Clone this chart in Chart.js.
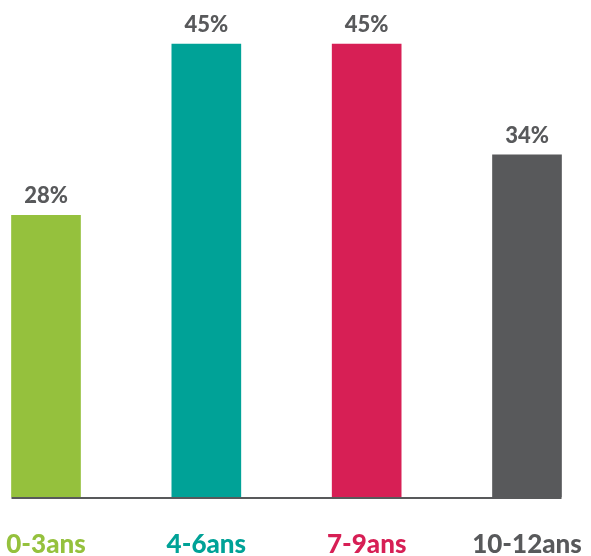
<!DOCTYPE html>
<html>
<head>
<meta charset="utf-8">
<script src="https://cdn.jsdelivr.net/npm/chart.js@4/dist/chart.umd.min.js"></script>
<style>
  html, body { margin: 0; padding: 0; background: #fff; }
  #wrap { width: 591px; height: 556px; }
</style>
</head>
<body>
<div id="wrap"><canvas id="ageChart" width="591" height="556"></canvas></div>
<script>
// tranches d'âge et pourcentages
const ageGroups = ['0-3ans', '4-6ans', '7-9ans', '10-12ans'];
const percents = [28, 45, 45, 34];
const barColors = ['#95c13d', '#00a297', '#d71f55', '#58595b'];

const textGrey = '#58595b';
const fontFamily = 'Lato, "Open Sans", sans-serif';

// ligne de base sous les barres, d'un bord de barre à l'autre
const baseLine = {
    id: 'baseLine',
    afterDatasetsDraw(chart) {
        const bars = chart.getDatasetMeta(0).data;
        if (!bars.length) return;
        const first = bars[0], last = bars[bars.length - 1];
        const y = chart.scales.y.getPixelForValue(0) + 1;
        const ctx = chart.ctx;
        ctx.save();
        ctx.strokeStyle = textGrey;
        ctx.lineWidth = 2;
        ctx.beginPath();
        ctx.moveTo(first.x - first.width / 2, y);
        ctx.lineTo(last.x + last.width / 2, y);
        ctx.stroke();
        ctx.restore();
    }
};

// pourcentage au-dessus de chaque barre
const valueLabels = {
    id: 'valueLabels',
    afterDatasetsDraw(chart) {
        const ctx = chart.ctx;
        const values = chart.data.datasets[0].data;
        ctx.save();
        ctx.font = '900 22px ' + fontFamily;
        ctx.fillStyle = textGrey;
        ctx.textAlign = 'center';
        ctx.textBaseline = 'alphabetic';
        chart.getDatasetMeta(0).data.forEach((bar, i) => {
            ctx.fillText(values[i] + '%', bar.x, bar.y - 12);
        });
        ctx.restore();
    }
};

new Chart(document.getElementById('ageChart'), {
    type: 'bar',
    data: {
        labels: ageGroups,
        datasets: [{
            data: percents,
            backgroundColor: barColors,
            barThickness: 69,
            clip: false
        }]
    },
    options: {
        responsive: false,
        devicePixelRatio: 1,
        animation: false,
        layout: { padding: { left: 46, right: 64, top: 14, bottom: 0 } },
        plugins: {
            legend: { display: false },
            tooltip: { enabled: false }
        },
        scales: {
            x: {
                offset: false,
                grid: { display: false, drawTicks: false },
                border: { display: false },
                afterFit: (scale) => {
                    scale.height = 59;
                    scale.paddingLeft = 0;
                    scale.paddingRight = 0;
                },
                ticks: {
                    padding: 32,
                    maxRotation: 0,
                    autoSkip: false,
                    font: { family: fontFamily, size: 26, weight: 900 },
                    color: (c) => barColors[c.index]
                }
            },
            y: {
                display: false,
                min: 0,
                max: 48
            }
        }
    },
    plugins: [baseLine, valueLabels]
});
</script>
</body>
</html>
